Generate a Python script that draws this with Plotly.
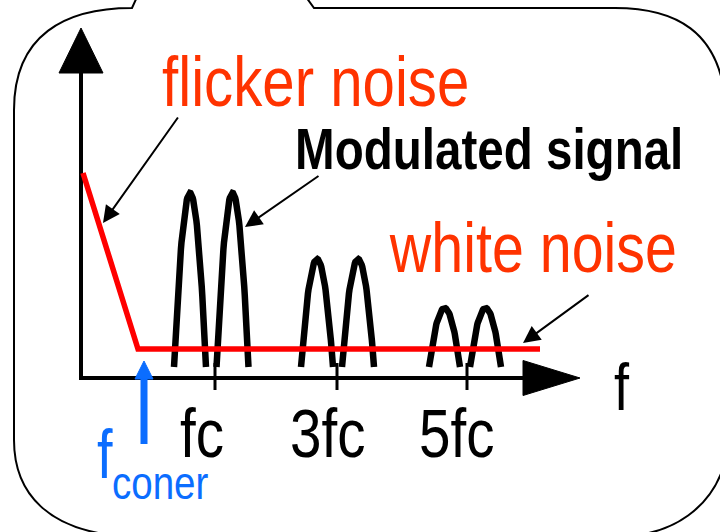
import numpy as np
import plotly.graph_objects as go

# ---------------- data (diagram units: x = frequency, y = spectral density) -------------
noise_x = [2, 57, 459]          # flicker slope then white-noise floor
noise_y = [205, 29, 29]

lobe_centers = [109, 151.5, 236, 277, 363.5, 404.5]
lobe_peaks = [185, 185, 119, 119, 70, 70]
lobe_half_width = [16, 16, 16, 16, 15.5, 15.5]
lobe_base = 11

tick_pos = [134, 256, 386]
tick_labels = ["fc", "3fc", "5fc"]
tick_label_left = [97, 207, 336]

corner_freq = 63

# ---------------- helpers ----------------
X0, Y0 = 81, 378  # pixel position of origin (for decoration placement)


def P(px, py):
    return f"{px - X0},{Y0 - py}"


RED = "#ff0000"
TXT_RED = "#ff3300"
BLUE = "#0b6dff"
FONT = "Liberation Sans, Arial, sans-serif"

fig = go.Figure()

# vertical axis
fig.add_trace(go.Scatter(x=[0, 0], y=[-2, 306], mode="lines",
                         line=dict(color="black", width=4), hoverinfo="skip"))
fig.add_trace(go.Scatter(x=[-22, 0, 22, -22], y=[305, 350, 305, 305], mode="lines",
                         fill="toself", fillcolor="black", line=dict(color="black", width=1),
                         hoverinfo="skip"))
# horizontal axis
fig.add_trace(go.Scatter(x=[-2, 443], y=[0, 0], mode="lines",
                         line=dict(color="black", width=4), hoverinfo="skip"))
fig.add_trace(go.Scatter(x=[442, 499, 442, 442], y=[17.5, 0, -17.5, 17.5], mode="lines",
                         fill="toself", fillcolor="black", line=dict(color="black", width=1),
                         hoverinfo="skip"))

# ticks
for tp in tick_pos:
    fig.add_trace(go.Scatter(x=[tp, tp], y=[-12, 15], mode="lines",
                             line=dict(color="black", width=3), hoverinfo="skip"))

# modulated-signal lobes
u = np.linspace(-1, 1, 61)
for c, pk, hw in zip(lobe_centers, lobe_peaks, lobe_half_width):
    fig.add_trace(go.Scatter(x=c + hw * u, y=lobe_base + (pk - lobe_base) * (1 - u ** 2),
                             mode="lines", line=dict(color="black", width=6.5), hoverinfo="skip"))

# noise line
fig.add_trace(go.Scatter(x=noise_x, y=noise_y, mode="lines",
                         line=dict(color=RED, width=5.5), hoverinfo="skip"))

# corner-frequency blue arrow
fig.add_trace(go.Scatter(x=[corner_freq, corner_freq], y=[-66, 0], mode="lines",
                         line=dict(color=BLUE, width=7), hoverinfo="skip"))
fig.add_trace(go.Scatter(x=[corner_freq - 9, corner_freq, corner_freq + 9, corner_freq - 9],
                         y=[-1, 17, -1, -1], mode="lines", fill="toself", fillcolor=BLUE,
                         line=dict(color=BLUE, width=1), hoverinfo="skip"))

# frame (speech-bubble like rounded border)
frame = ("M " + P(137, -3) + " L " + P(132, 8) +
         " C " + P(65, 8) + " " + P(14, 35) + " " + P(14, 110) +
         " L " + P(14, 440) +
         " C " + P(14, 495) + " " + P(50, 530) + " " + P(120, 536) +
         " L " + P(620, 536) +
         " C " + P(675, 536) + " " + P(712, 505) + " " + P(724, 465) +
         " L " + P(724, 90) +
         " C " + P(715, 35) + " " + P(680, 8) + " " + P(615, 8) +
         " L " + P(314, 8) + " L " + P(306, -3))
fig.add_shape(type="path", path=frame, xref="x", yref="y",
              line=dict(color="black", width=2), fillcolor="rgba(0,0,0,0)")


def label(text, left_px, baseline_px, size, color, bold=False):
    fig.add_annotation(x=left_px - X0, y=Y0 - (baseline_px - 0.35 * size), xref="x", yref="y",
                       text=text, showarrow=False, xanchor="left", yanchor="middle",
                       font=dict(family=FONT, size=size, color=color,
                                 weight="bold" if bold else "normal"))


label("flicker noise", 160, 106, 71, TXT_RED)
label("Modulated signal", 293, 169, 58, "black", bold=True)
label("white noise", 387, 272, 70, TXT_RED)
label("f", 612, 410, 66, "black")
label("f", 95, 478, 68, BLUE)
label("coner", 110, 499, 47, BLUE)
for t, lx in zip(tick_labels, tick_label_left):
    label(t, lx + X0, 458, 69, "black")


def arrow(tail, tip):
    fig.add_annotation(x=tip[0] - X0, y=Y0 - tip[1], ax=tail[0] - X0, ay=Y0 - tail[1],
                       xref="x", yref="y", axref="x", ayref="y", text="",
                       showarrow=True, arrowhead=2, arrowsize=1.7, arrowwidth=2,
                       arrowcolor="black", standoff=0)


arrow((179, 116), (103, 223))
arrow((320, 175), (245, 227))
arrow((590, 294), (523, 343))

fig.update_layout(
    width=720, height=532, margin=dict(l=0, r=0, t=0, b=0),
    paper_bgcolor="white", plot_bgcolor="white", showlegend=False,
    xaxis=dict(range=[-X0, 720 - X0], visible=False, fixedrange=True),
    yaxis=dict(range=[Y0 - 532, Y0], visible=False, fixedrange=True),
)

# narrow (condensed) look of the original typeface: squeeze glyphs horizontally,
# keeping each label's left edge fixed
post = """
document.body.style.margin='0';document.body.style.overflow='hidden';
var gd=document.getElementById('{plot_id}');
gd.querySelectorAll('text.annotation-text').forEach(function(t){
  if(!t.textContent) return;
  var b=t.getBBox();
  var tr=t.getAttribute('transform')||'';
  t.setAttribute('transform', tr+' translate('+b.x+',0) scale(0.82,1) translate('+(-b.x)+',0)');
});
"""

fig.write_html("out.html", config={"displayModeBar": False, "staticPlot": True},
               post_script=post)
